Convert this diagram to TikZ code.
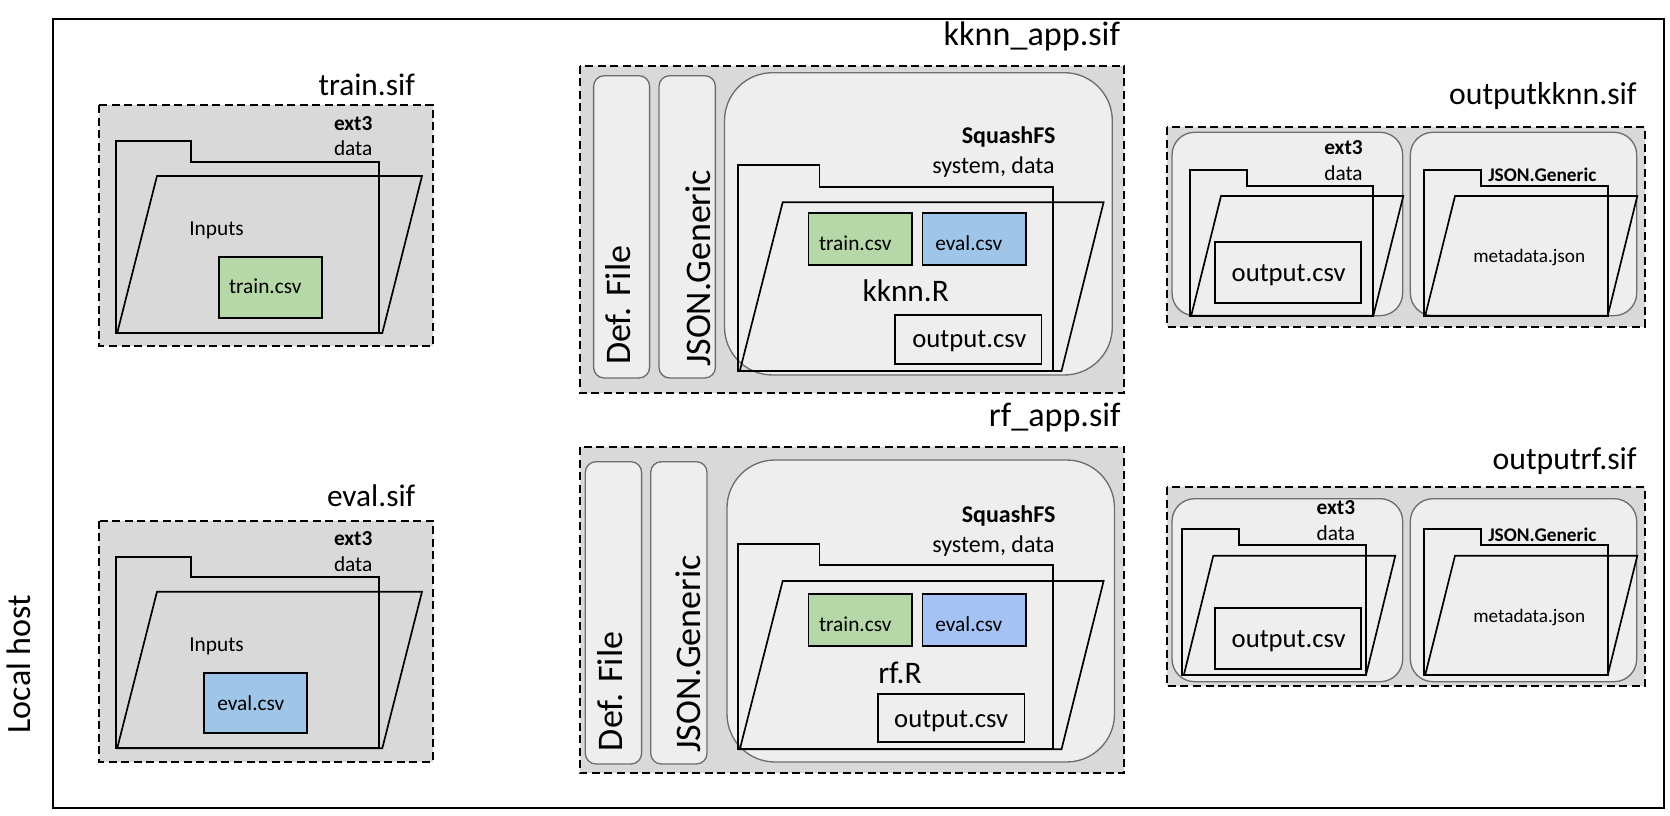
\documentclass[tikz,border=0pt]{standalone}
\usepackage{fontspec}
\setmainfont{Carlito}
\definecolor{sifgray}{HTML}{D9D9D9}
\definecolor{fspale}{HTML}{EEEEEE}
\definecolor{fsedge}{HTML}{6E6E6E}
\definecolor{traingreen}{HTML}{B6D7A8}
\definecolor{evalblue}{HTML}{9FC5E8}
\definecolor{evalblueb}{HTML}{A4C2F4}
\tikzset{
  sifbox/.style={draw=black,fill=sifgray,line width=1.5pt,dash pattern=on 6pt off 3.4pt},
  pill/.style={draw=fsedge,fill=fspale,line width=1pt,rounded corners=8pt},
  fsbig/.style={draw=fsedge,fill=fspale,line width=1pt,rounded corners=36pt},
  fssmall/.style={draw=fsedge,fill=fspale,line width=1pt,rounded corners=17pt},
  foldline/.style={draw=black,line width=1.25pt,line join=miter},
  filebox/.style={draw=black,line width=1.25pt},
  lab/.style={anchor=base west,inner sep=0pt,outer sep=0pt,font=\fontsize{#1}{#1}\selectfont},
  labb/.style={anchor=base west,inner sep=0pt,outer sep=0pt,font=\fontsize{#1}{#1}\selectfont\bfseries},
  labr/.style={anchor=base east,inner sep=0pt,outer sep=0pt,font=\fontsize{#1}{#1}\selectfont},
  labrb/.style={anchor=base east,inner sep=0pt,outer sep=0pt,font=\fontsize{#1}{#1}\selectfont\bfseries},
  labv/.style={anchor=base west,inner sep=0pt,outer sep=0pt,rotate=90,font=\fontsize{#1}{#1}\selectfont},
}
% Open folder: #1 left, #2 top, #3 tab right, #4 tab step, #5 back right, #6 bottom,
% #7 flap top, #8 flap top-left, #9 flap top-right; the flap's lower corners follow
\newcommand{\openfolder}[9]{%
  \draw[foldline] (#1,#6) -- (#1,#2) -- (#3,#2) -- (#3,#4) -- (#5,#4) -- (#5,#6) -- cycle;
  \draw[foldline] (#1+1.5,#6) -- (#8,#7) -- (#9,#7) -- (#5+\flapoff,#6) -- cycle;
}
\newcommand{\flapoff}{0}
\begin{document}
\begin{tikzpicture}[x=0.75pt,y=-0.75pt]
\useasboundingbox (0,0) rectangle (1670,816);

% Local host frame
\draw[draw=black,line width=1.1pt] (53,19) rectangle (1664,808);
\node[labv=25.5] (localhost) at (30,733.3) {Local host};

% train.sif
\draw[sifbox] (99,105) rectangle (432.7,345.7);
\node[lab=23.5] (trainsif) at (318.5,96) {train.sif};
\renewcommand{\flapoff}{3}
\openfolder{115.7}{141.3}{190.7}{161.7}{379.3}{333}{176}{157}{422}
\draw[filebox,fill=traingreen] (218.7,256.7) rectangle (321.7,317.7);
\node[lab=16] (traintxt) at (229,294) {train.csv};
\node[lab=16] (traininputs) at (189.3,236) {Inputs};
\node[labb=16] (trainext) at (334,130.7) {ext3};
\node[lab=16] (traindata) at (334,155.7) {data};

% eval.sif
\draw[sifbox] (99,520.7) rectangle (432.7,761.7);
\node[lab=23.5] (evalsif) at (327,506.7) {eval.sif};
\openfolder{115.7}{557}{190.7}{577.3}{379.3}{748.3}{591.7}{157}{422}
\draw[filebox,fill=evalblue] (203.7,672.7) rectangle (307,733.3);
\node[lab=16] (evaltxt) at (217.3,710) {eval.csv};
\node[lab=16] (evalinputs) at (189.3,651) {Inputs};
\node[labb=16] (evalext) at (334,545.7) {ext3};
\node[lab=16] (evaldata) at (334,571.7) {data};

% kknn_app.sif
\draw[sifbox] (579.8,65.7) rectangle (1124.3,392.7);
\node[labr=25.6] (kknnsif) at (1120,46) {kknn\_app.sif};
\draw[pill] (593.6,75.7) rectangle (649.6,378);
\draw[pill] (659,75.7) rectangle (715.4,378);
\draw[fsbig] (724.5,72.7) rectangle (1112.3,375);
\node[labv=27] (kknndef) at (630.5,365) {Def. File};
\node[labv=27] (kknnjson) at (710,367) {JSON.Generic};
\node[labrb=18] (kknnsq) at (1055.3,143.3) {SquashFS};
\node[labr=18] (kknnsys) at (1054.5,174) {system, data};
\renewcommand{\flapoff}{8.5}
\openfolder{738.3}{165.3}{819.4}{187}{1053}{371}{202.3}{782.7}{1103.6}
\draw[filebox,fill=traingreen] (808.5,213.3) rectangle (912,265.3);
\draw[filebox,fill=evalblue] (922.6,213.3) rectangle (1025.8,265.3);
\draw[filebox] (895.3,314.7) rectangle (1041.5,364);
\node[lab=16] (kknntrain) at (819,251) {train.csv};
\node[lab=16] (kknneval) at (935.3,251) {eval.csv};
\node[lab=23.5] (kknnr) at (862.5,302) {kknn.R};
\node[lab=20] (kknnout) at (912.4,347.7) {output.csv};

% rf_app.sif
\draw[sifbox] (579.8,447) rectangle (1124.3,773.3);
\node[labr=25.6] (rfsif) at (1120.7,426.7) {rf\_app.sif};
\draw[pill] (585.3,461.7) rectangle (641.6,764);
\draw[pill] (650.7,461.7) rectangle (707,764);
\draw[fsbig] (727,460) rectangle (1114.5,762);
\node[labv=27] (rfdef) at (622,751) {Def. File};
\node[labv=27] (rfjson) at (700.9,752.5) {JSON.Generic};
\node[labrb=18] (rfsq) at (1055.3,522) {SquashFS};
\node[labr=18] (rfsys) at (1054.5,552) {system, data};
\openfolder{738.3}{543.7}{819.4}{565.3}{1053}{749.3}{581}{782.7}{1103.6}
\draw[filebox,fill=traingreen] (808.5,594) rectangle (912,646);
\draw[filebox,fill=evalblueb] (922.6,594) rectangle (1025.8,646);
\draw[filebox] (877.9,694.3) rectangle (1024.4,742.3);
\node[lab=16] (rftrain) at (819,631.7) {train.csv};
\node[lab=16] (rfeval) at (935.3,631.7) {eval.csv};
\node[lab=23.5] (rfr) at (878.3,683.5) {rf.R};
\node[lab=20] (rfout) at (894.2,727.3) {output.csv};

% outputkknn.sif
\draw[sifbox] (1166.7,127.3) rectangle (1644.7,326.7);
\node[labr=23.8] (okknnsif) at (1636.7,105) {outputkknn.sif};
\draw[fssmall] (1172,132.3) rectangle (1402.7,315.7);
\draw[fssmall] (1410.3,132.3) rectangle (1636.7,315.7);
\renewcommand{\flapoff}{0}
\openfolder{1189.7}{169.7}{1247}{185.7}{1373.3}{315.7}{196}{1221}{1403.3}
\openfolder{1423.7}{169.7}{1481}{185.7}{1607.7}{315.7}{196}{1455}{1637.3}
\draw[filebox] (1214.7,242.3) rectangle (1360.7,303);
\node[lab=20] (okknnout) at (1231.7,281.7) {output.csv};
\node[labb=16] (okknnext) at (1324.3,154.3) {ext3};
\node[lab=16] (okknndata) at (1324.3,180.7) {data};
\node[labb=14.5] (okknnjson) at (1488.3,181.7) {JSON.Generic};
\node[lab=14.4] (okknnmeta) at (1473.3,262.7) {metadata.json};

% outputrf.sif
\draw[sifbox] (1166.7,487) rectangle (1644.7,686.3);
\node[labr=23.8] (orfsif) at (1636.7,469.3) {outputrf.sif};
\draw[fssmall] (1172,498.7) rectangle (1402.7,681.7);
\draw[fssmall] (1410.3,498.7) rectangle (1636.7,681.7);
\openfolder{1182.3}{529.3}{1239.3}{545}{1366}{675}{555.7}{1213.3}{1395.3}
\openfolder{1423.7}{529.3}{1481}{545}{1607.7}{675}{555.7}{1455}{1637.3}
\draw[filebox] (1214.7,608) rectangle (1360.7,669);
\node[lab=20] (orfout) at (1231.7,647.3) {output.csv};
\node[labb=16] (orfext) at (1316.7,514.3) {ext3};
\node[lab=16] (orfdata) at (1316.7,540) {data};
\node[labb=14.5] (orfjson) at (1488.3,541.7) {JSON.Generic};
\node[lab=14.4] (orfmeta) at (1473.3,622.7) {metadata.json};
\end{tikzpicture}
\end{document}
